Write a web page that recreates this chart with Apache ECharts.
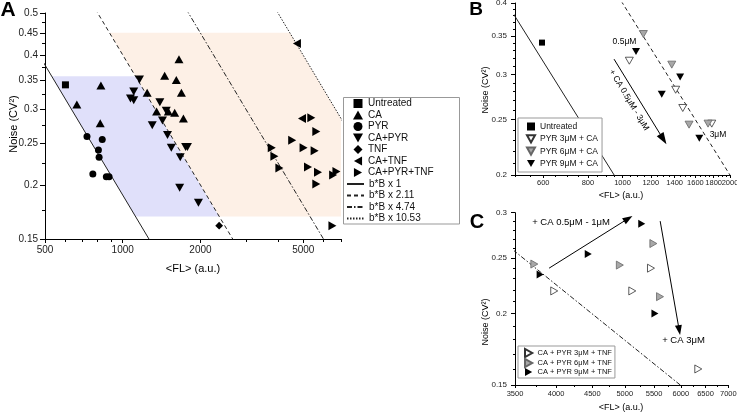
<!DOCTYPE html>
<html><head><meta charset="utf-8">
<script src="https://cdn.jsdelivr.net/npm/echarts@6/dist/echarts.min.js"></script>
<style>html,body{margin:0;padding:0;background:#fff}#c{width:737px;height:415px}</style>
</head><body><div id="c"></div>
<script>
// ---------------- data ----------------
// Panel A  [<FL>, CV^2]
const untreatedA = [[600, 0.341]];
const caA = [[664,0.307],[823,0.340],[818,0.278],[1243,0.327],[1352,0.296],[1453,0.358],[1612,0.350],[1651,0.391],[1687,0.327],[1501,0.296],[1589,0.294],[1717,0.285]];
const pyrA = [[727,0.259],[833,0.255],[805,0.241],[810,0.232],[766,0.212],[864,0.209],[885,0.209]];
const caPyrA = [[1161,0.351],[1103,0.329],[1071,0.317],[1103,0.314],[1392,0.311],[1474,0.297],[1301,0.275],[1425,0.282],[1490,0.261],[1542,0.244],[1752,0.245],[1780,0.245],[1670,0.232],[1661,0.197],[1964,0.182]];
const tnfA = [[2362, 0.161]];
const caTnfA = [[4726,0.425],[4943,0.285]];
const caPyrTnfA = [[5371,0.286],[5616,0.266],[4530,0.254],[3776,0.244],[3865,0.233],[4042,0.219],[5014,0.244],[5534,0.240],[5215,0.220],[5703,0.214],[6722,0.215],[6525,0.211],[5616,0.201],[6484,0.161]];
// Panel B
const untreatedB = [[595, 0.341]];
const pyr3B = [[1045,0.317],[1409,0.282],[1475,0.262],[1778,0.246]];
const pyr6B = [[1144,0.353],[1374,0.312],[1536,0.245],[1736,0.246]];
const pyr9B = [[1091,0.329],[1450,0.297],[1288,0.277],[1641,0.232]];
// Panel C
const pyr3C = [[3976,0.219],[5124,0.219],[5445,0.240],[6350,0.160]];
const pyr6C = [[3727,0.244],[4921,0.243],[5487,0.265],[5607,0.214]];
const pyr9C = [[3798,0.234],[4441,0.254],[5284,0.287],[5515,0.200]];

// reference lines CV^2 = b*B*k / <FL>
const bB = 189.5;
const lineMultipliers = [1, 2.11, 4.74, 10.53];
const lineNames = ['b*B x 1', 'b*B x 2.11', 'b*B x 4.74', 'b*B x 10.53'];
// shaded bands in A: [top CV^2, bottom CV^2]
const blueBand = [0.357, 0.169];
const beigeBand = [0.45, 0.169];

// arrows [[x0,y0],[x1,y1]]
const arrowB = [[947,0.319],[1301,0.231]];
const arrowsC = [[[3910,0.240],[5056,0.293]], [[5610,0.290],[5968,0.187]]];

// axes
const rangeA = {x:[500,7000], y:[0.15,0.5]};
const xLabelsA = [500,1000,2000,5000];
const xMinorA = [600,700,800,900,3000,4000,6000,7000];
const yLabelsA = [0.15,0.2,0.25,0.3,0.35,0.4,0.45,0.5];
const yMinorA = [0.175,0.225,0.275,0.325,0.375,0.425,0.475];
const rangeB = {x:[500,2000], y:[0.2,0.4]};
const xLabelsB = [600,800,1000,1200,1400,1600,1800,2000];
const xMinorB = [500,550,650,700,750,850,900,950,1050,1100,1150,1250,1300,1350,1450,1500,1550,1650,1700,1750,1850,1900,1950];
const yLabelsB = [0.2,0.25,0.3,0.35,0.4];
const yMinorB = [0.21,0.22,0.23,0.24,0.26,0.27,0.28,0.29,0.31,0.32,0.33,0.34,0.36,0.37,0.38,0.39];
const rangeC = {x:[3500,7000], y:[0.15,0.3]};
const xLabelsC = [3500,4000,4500,5000,5500,6000,6500,7000];
const xMinorC = [3750,4250,4750,5250,5750,6250,6750];
const yLabelsC = [0.15,0.2,0.25,0.3];
const yMinorC = [0.16,0.17,0.18,0.19,0.21,0.22,0.23,0.24,0.26,0.27,0.28,0.29];

// ---------------- chart ----------------
const FONT = 'Liberation Sans, Arial, sans-serif';
const L = v => Math.log10(v);
const P = arr => arr.map(p => [L(p[0]), L(p[1])]);
const fmt = v => String(+Math.pow(10, v).toPrecision(4));

function axes(gi, range, labels, minors, o) {
  const main = {
    type: 'value', gridIndex: gi, min: L(range[0]), max: L(range[1]), position: o.pos,
    axisLine: {show: true, onZero: false, lineStyle: {color: '#000', width: 1}},
    splitLine: {show: false},
    axisTick: {show: true, length: o.tick, lineStyle: {color: '#000', width: 1}, customValues: labels.map(L)},
    axisLabel: {show: !o.noLabels, customValues: labels.map(L), margin: o.margin, fontSize: o.fs, color: '#222', fontFamily: FONT,
      formatter: fmt, showMinLabel: true, showMaxLabel: true, hideOverlap: false, interval: 0}
  };
  const minor = {
    type: 'value', gridIndex: gi, min: L(range[0]), max: L(range[1]), position: o.pos, offset: 0,
    axisLine: {show: false}, splitLine: {show: false}, axisLabel: {show: false},
    axisTick: {show: true, length: o.minor, lineStyle: {color: '#000', width: 1}, customValues: minors.map(L)}
  };
  return [main, minor];
}

const xAxis = [
  ...axes(0, rangeA.x, xLabelsA, xMinorA, {pos:'bottom', tick:4, minor:3, margin:6, fs:10}),
  ...axes(1, rangeB.x, xLabelsB, xMinorB, {pos:'bottom', tick:3, minor:2, margin:4, fs:7.5, noLabels: true}),
  ...axes(2, rangeC.x, xLabelsC, xMinorC, {pos:'bottom', tick:3, minor:2, margin:5, fs:7.5})
];
const yAxis = [
  ...axes(0, rangeA.y, yLabelsA, yMinorA, {pos:'left', tick:5, minor:3, margin:7, fs:10}),
  ...axes(1, rangeB.y, yLabelsB, yMinorB, {pos:'left', tick:4, minor:2, margin:8, fs:8}),
  ...axes(2, rangeC.y, yLabelsC, yMinorC, {pos:'left', tick:4, minor:2, margin:8, fs:8})
];

function sc(name, data, gi, symbol, rot, size, color, border) {
  return {
    type: 'scatter', name, xAxisIndex: gi*2, yAxisIndex: gi*2, data: P(data),
    symbol, symbolRotate: rot, symbolSize: size, z: 5, silent: true,
    itemStyle: {color, borderColor: border || color, borderWidth: border ? 0.8 : 0, opacity: 1},
    emphasis: {disabled: true}
  };
}
const dashes = ['solid', [4,3], [5,2,1.5,2], [1.5,1.5]];
function refLine(name, k, gi) {
  const c = bB * lineMultipliers[k];
  return {
    type: 'line', name, xAxisIndex: gi*2, yAxisIndex: gi*2, clip: true, silent: true,
    symbol: 'none', showSymbol: false, z: 3,
    lineStyle: {color: '#222', width: 1, type: dashes[k]},
    itemStyle: {color: '#222'},
    data: [[L(c/1.0), L(1.0)], [L(c/0.05), L(0.05)]],
    emphasis: {disabled: true}
  };
}
function poly(name, verts, color, gi) {
  return {
    type: 'custom', name, xAxisIndex: gi*2, yAxisIndex: gi*2, silent: true, z: 1, clip: true,
    data: [[L(verts[0][0]), L(verts[0][1])]],
    renderItem: (params, api) => ({
      type: 'polygon',
      shape: {points: verts.map(v => api.coord([L(v[0]), L(v[1])]))},
      style: {fill: color}
    })
  };
}
const c1 = bB*lineMultipliers[0], c2 = bB*lineMultipliers[1], c4 = bB*lineMultipliers[3];
const blueVerts = [[c1/blueBand[0], blueBand[0]], [c2/blueBand[0], blueBand[0]], [c2/blueBand[1], blueBand[1]], [c1/blueBand[1], blueBand[1]]];
const beigeVerts = [[c2/beigeBand[0], beigeBand[0]], [c4/beigeBand[0], beigeBand[0]], [rangeA.x[1], c4/rangeA.x[1]], [rangeA.x[1], beigeBand[1]], [c2/beigeBand[1], beigeBand[1]]];

function arrowML(arr, size) {
  return {
    silent: true, symbol: ['none', 'triangle'], symbolSize: size, precision: 6,
    label: {show: false}, emphasis: {disabled: true},
    lineStyle: {color: '#000', width: 1, type: 'solid'},
    itemStyle: {color: '#000'},
    data: arr.map(a => [{coord: [L(a[0][0]), L(a[0][1])]}, {coord: [L(a[1][0]), L(a[1][1])]}])
  };
}

const WH = '#ffffff', GR = '#a8a8a8', BK = '#000000';
const series = [
  poly('_blue', blueVerts, '#e0e0fa', 0),
  poly('_beige', beigeVerts, '#fdf0e6', 0),
  ...lineNames.map((n, k) => refLine(n, k, 0)),
  sc('Untreated', untreatedA, 0, 'rect', 0, 7, BK),
  sc('CA', caA, 0, 'triangle', 0, [9,8], BK),
  sc('PYR', pyrA, 0, 'circle', 0, 7, BK),
  sc('CA+PYR', caPyrA, 0, 'triangle', 180, [9,8], BK),
  sc('TNF', tnfA, 0, 'rect', 45, 5.5, BK),
  sc('CA+TNF', caTnfA, 0, 'triangle', 90, [9,8], BK),
  sc('CA+PYR+TNF', caPyrTnfA, 0, 'triangle', -90, [9,8], BK),
  refLine('_b1', 0, 1), refLine('_b2', 1, 1),
  sc('Untreated', untreatedB, 1, 'rect', 0, 6, BK),
  sc('PYR 3μM + CA', pyr3B, 1, 'triangle', 180, [8,7], WH, '#333'),
  sc('PYR 6μM + CA', pyr6B, 1, 'triangle', 180, [8,7], GR, '#666'),
  Object.assign(sc('PYR 9μM + CA', pyr9B, 1, 'triangle', 180, [8,7], BK), {markLine: arrowML([arrowB], [8,12])}),
  refLine('_c3', 2, 2),
  sc('CA + PYR 3μM + TNF', pyr3C, 2, 'triangle', -90, [8,7], WH, '#333'),
  sc('CA + PYR 6μM + TNF', pyr6C, 2, 'triangle', -90, [8,7], GR, '#666'),
  Object.assign(sc('CA + PYR 9μM + TNF', pyr9C, 2, 'triangle', -90, [8,7], BK), {markLine: arrowML(arrowsC, [7,10])})
];

// legend icons (shapes only)
const IC = {
  up: 'path://M0,9 L5,0 L10,9 Z',
  down: 'path://M0,0 L10,0 L5,9 Z',
  left: 'path://M9,0 L9,10 L0,5 Z',
  right: 'path://M0,0 L0,10 L9,5 Z',
  diamond: 'path://M5,0 L10,5 L5,10 L0,5 Z',
  square: 'path://M0,0 L9,0 L9,9 L0,9 Z', circle: 'circle'
};
const hidden = {color: 'rgba(0,0,0,0)', borderColor: 'rgba(0,0,0,0)', borderWidth: 0, opacity: 0};
const legendBase = {orient: 'vertical', selectedMode: false, symbolKeepAspect: true};
const legend = [
  Object.assign({}, legendBase, {left: 353, top: 98.5, padding: 0, itemWidth: 10, itemHeight: 9, itemGap: 1.5,
    textStyle: {fontSize: 10, lineHeight: 10, color: '#111', fontFamily: FONT},
    data: [
      {name: 'Untreated', icon: IC.square},
      {name: 'CA', icon: IC.up},
      {name: 'PYR', icon: IC.circle},
      {name: 'CA+PYR', icon: IC.down},
      {name: 'TNF', icon: IC.diamond},
      {name: 'CA+TNF', icon: IC.left},
      {name: 'CA+PYR+TNF', icon: IC.right}
    ]}),
  Object.assign({}, legendBase, {left: 346, top: 179, padding: 0, itemWidth: 17, itemHeight: 9, itemGap: 1.5,
    textStyle: {fontSize: 10, lineHeight: 10, color: '#111', fontFamily: FONT},
    data: lineNames.map(n => ({name: n, itemStyle: hidden}))}),
  Object.assign({}, legendBase, {left: 518, top: 118, padding: [4, 4, 4, 8], itemWidth: 8, itemHeight: 8, itemGap: 3.2,
    borderColor: '#999', borderWidth: 1, backgroundColor: '#fff',
    textStyle: {fontSize: 8.5, lineHeight: 9, color: '#111', fontFamily: FONT},
    data: [
      {name: 'Untreated', icon: IC.square},
      {name: 'PYR 3μM + CA', icon: IC.down},
      {name: 'PYR 6μM + CA', icon: IC.down},
      {name: 'PYR 9μM + CA', icon: IC.down}
    ]}),
  Object.assign({}, legendBase, {left: 518, top: 346, padding: [2, 3, 2, 6], itemWidth: 8, itemHeight: 8, itemGap: 0,
    borderColor: '#999', borderWidth: 1, backgroundColor: '#fff',
    textStyle: {fontSize: 7.5, lineHeight: 8, color: '#111', fontFamily: FONT},
    data: [
      {name: 'CA + PYR 3μM + TNF', icon: IC.right},
      {name: 'CA + PYR 6μM + TNF', icon: IC.right},
      {name: 'CA + PYR 9μM + TNF', icon: IC.right}
    ]})
];

function txt(text, x, y, fs, opts) {
  opts = opts || {};
  return {type: 'text', x, y, rotation: opts.rot || 0, silent: true, z: 20,
    style: {text, fill: opts.fill || '#000', fontSize: fs, fontFamily: FONT, fontWeight: opts.bold ? 'bold' : 'normal',
      align: 'center', verticalAlign: opts.va || 'middle', textAlign: 'center', textVerticalAlign: opts.va || 'middle'}};
}
const graphic = [
  {type: 'rect', silent: true, z: 0, shape: {x: 343.5, y: 97.5, width: 116, height: 126.5},
    style: {fill: '#fff', stroke: '#999', lineWidth: 1}},
  txt('A', 8, 10, 21, {bold: true}),
  txt('B', 476, 10, 19, {bold: true}),
  txt('C', 477, 222, 20, {bold: true}),
  txt('Noise (CV²)', 14, 124, 11, {rot: Math.PI/2}),
  txt('<FL> (a.u.)', 193, 269, 11),
  txt('Noise (CV²)', 486, 90, 9, {rot: Math.PI/2}),
  txt('<FL> (a.u.)', 621, 196, 9),
  txt('Noise (CV²)', 486, 322, 9, {rot: Math.PI/2}),
  txt('<FL> (a.u.)', 621, 408, 9),
  txt('0.5μM', 624.5, 41.7, 8.5),
  txt('3μM', 718, 134.7, 8.5),
  txt('+ CA 0.5μM - 3μM', 629, 100, 8.5, {rot: -59*Math.PI/180}),
  txt('+ CA 0.5μM - 1μM', 571, 222.5, 9.5),
  txt('+ CA 3μM', 683.5, 340, 9.5)
];

const chart = echarts.init(document.getElementById('c'), null, {renderer: 'canvas'});
const gridOpt = [
  {left: 45, top: 13, width: 296, height: 226, containLabel: false, outerBoundsMode: 'none'},
  {left: 515, top: 3, width: 215, height: 172, containLabel: false, outerBoundsMode: 'none'},
  {left: 515, top: 212.7, width: 213.3, height: 172.3, containLabel: false, outerBoundsMode: 'none'}
];
chart.setOption({
  animation: false,
  backgroundColor: '#fff',
  textStyle: {fontFamily: FONT},
  grid: gridOpt,
  xAxis, yAxis, series, legend, graphic
});
// B x-axis labels placed through the axis scale (dense labels would otherwise be auto-hidden)
const yBottomB = chart.convertToPixel({yAxisIndex: 2}, L(rangeB.y[0]));
const bLabels = xLabelsB.map(v => txt(String(v), chart.convertToPixel({xAxisIndex: 2}, L(v)), yBottomB + 4, 7.5, {va: 'top', fill: '#222'}));
chart.setOption({graphic: graphic.concat(bLabels)});
</script></body></html>
